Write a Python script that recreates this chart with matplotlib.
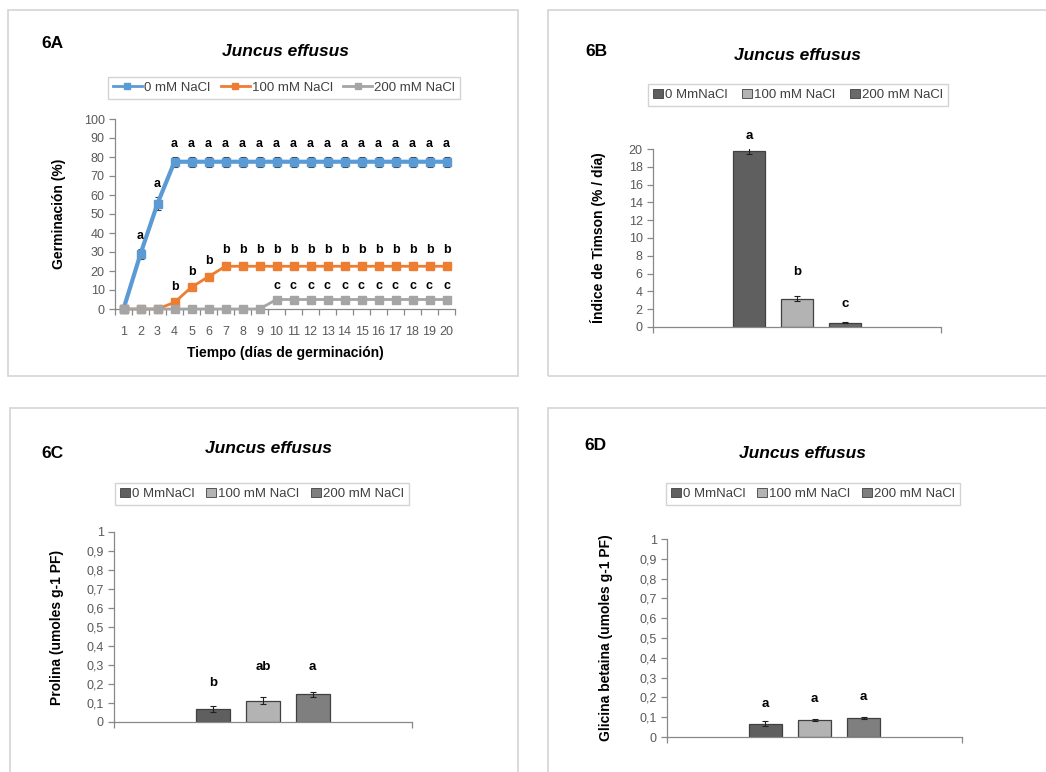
import matplotlib
matplotlib.use("Agg")
import matplotlib.pyplot as plt
from matplotlib.lines import Line2D
from matplotlib.patches import Rectangle, Patch

plt.rcParams['font.family'] = ['Liberation Sans', 'DejaVu Sans']

# Germinación acumulada (%) por día
dias = list(range(1, 21))
germ_0 = [0, 29, 55.5] + [77.5] * 17
err_0 = [0, 2.5, 3.5] + [2.5] * 17
germ_100 = [0, 0, 0, 3.5, 11.5, 17] + [22.5] * 14
err_100 = [0, 0, 0, 1, 1, 1] + [1.5] * 14
germ_200 = [0] * 9 + [5] * 11
err_200 = [0] * 20
letras_0 = [''] + ['a'] * 19
letras_100 = [''] * 3 + ['b'] * 17
letras_200 = [''] * 9 + ['c'] * 11

series_A = ['0 mM NaCl', '100 mM NaCl', '200 mM NaCl']
tratamientos = ['0 MmNaCl', '100 mM NaCl', '200 mM NaCl']

# Índice de Timson
timson = [19.8, 3.2, 0.5]
timson_err = [0.4, 0.3, 0.05]
timson_letras = ['a', 'b', 'c']

# Prolina
prolina = [0.07, 0.112, 0.145]
prolina_err = [0.015, 0.018, 0.015]
prolina_letras = ['b', 'ab', 'a']

# Glicina betaina
glicina = [0.068, 0.088, 0.097]
glicina_err = [0.012, 0.005, 0.005]
glicina_letras = ['a', 'a', 'a']

W, H = 1046, 772
fig = plt.figure(figsize=(W / 100, H / 100), dpi=100)

gris_txt = '#595959'
gris_eje = '#888888'


def px_axes(x0, x1, y_top, y_bot):
    return fig.add_axes([x0 / W, 1 - y_bot / H, (x1 - x0) / W, (y_bot - y_top) / H])


def marco(x0, y0, x1, y1):
    fig.patches.append(Rectangle((x0 / W, 1 - y1 / H), (x1 - x0) / W, (y1 - y0) / H,
                                 transform=fig.transFigure, fill=False,
                                 edgecolor='#d4d4d4', lw=1.2))


def txt(x, y, s, **kw):
    fig.text(x / W, 1 - y / H, s, **kw)


def estilo(ax):
    for s in ['top', 'right']:
        ax.spines[s].set_visible(False)
    for s in ['left', 'bottom']:
        ax.spines[s].set_color(gris_eje)
        ax.spines[s].set_linewidth(0.9)
    ax.tick_params(axis='y', colors=gris_eje, labelcolor=gris_txt, labelsize=9,
                   length=4, width=0.9)


def leyenda(handles, labels, cx, cy, **kw):
    leg = fig.legend(handles=handles, labels=labels, loc='center',
                     bbox_to_anchor=(cx / W, 1 - cy / H), ncol=3, frameon=True,
                     fancybox=False, edgecolor='#c8c8c8', fontsize=9.5,
                     handletextpad=0.15, borderpad=0.4, **kw)
    leg.get_frame().set_linewidth(1.0)
    for t in leg.get_texts():
        t.set_color('#404040')
    return leg


# marcos de cada panel
marco(8, 10, 518, 376)
marco(548, 10, 1060, 376)
marco(10, 408, 518, 790)
marco(548, 408, 1060, 790)

# ---- 6A: germinación ----
axA = px_axes(115, 455, 119, 309)
estilo(axA)
colores = ['#5b9bd5', '#ed7d31', '#a5a5a5']
series = [(germ_0, err_0, letras_0, 3.0, 6), (germ_100, err_100, letras_100, 2.0, 5.5),
          (germ_200, err_200, letras_200, 2.0, 5.5)]
for (vals, errs, letras, lw, ms), c in zip(series, colores):
    axA.errorbar(dias, vals, yerr=errs, color=c, lw=lw, marker='s', ms=ms,
                 ecolor='#404040', elinewidth=0.8, capsize=2.5, capthick=0.8,
                 clip_on=False, zorder=3)
    for d, v, e, l in zip(dias, vals, errs, letras):
        if l:
            axA.text(d, v + e + 7, l, ha='center', va='center', fontsize=9,
                     fontweight='bold')
axA.set_xlim(0.5, 20.5)
axA.set_ylim(0, 100)
axA.set_yticks(range(0, 101, 10))
axA.set_xticks(dias)
axA.set_xticks([d + 0.5 for d in range(0, 21)], minor=True)
axA.tick_params(axis='x', which='major', length=0, colors=gris_txt, labelsize=9, pad=12)
axA.tick_params(axis='x', which='minor', length=4, color=gris_eje, width=0.9)
axA.set_ylabel('Germinación (%)', fontsize=10, fontweight='bold', labelpad=13)
axA.set_xlabel('Tiempo (días de germinación)', fontsize=10, fontweight='bold', labelpad=6)
txt(52, 44, '6A', fontsize=12.5, fontweight='bold', ha='center', va='center')
txt(285, 52, 'Juncus effusus', fontsize=12.5, fontweight='bold', style='italic',
    ha='center', va='center')
hA = [Line2D([], [], color=c, lw=2.0, marker='s', ms=4.5) for c in colores]
leyenda(hA, series_A, 284, 88, handlelength=2.2, columnspacing=0.8)


# ---- paneles de barras ----
def barras(ax, vals, errs, letras, lab_y, colores_b, ylim, yticks, ylabels, ylabel, pad):
    estilo(ax)
    pos = [-1, 0, 1]
    ax.bar(pos, vals, width=0.68, color=colores_b, edgecolor='#404040', lw=0.9, zorder=2)
    ax.errorbar(pos, vals, yerr=errs, fmt='none', ecolor='#202020', elinewidth=0.8,
                capsize=2.5, capthick=0.8, zorder=3)
    for p, l, y in zip(pos, letras, lab_y):
        ax.text(p, y, l, ha='center', va='center', fontsize=9.5, fontweight='bold')
    ax.set_xlim(-3, 3)
    ax.set_ylim(*ylim)
    ax.set_yticks(yticks)
    ax.set_yticklabels(ylabels)
    ax.set_xticks([-3, 3])
    ax.set_xticklabels([])
    ax.tick_params(axis='x', length=4, color=gris_eje, width=0.9)
    ax.set_ylabel(ylabel, fontsize=10, fontweight='bold', labelpad=pad)


grises_b = ['#5f5f5f', '#b3b3b3', '#6a6a6a']
grises_cd = ['#5f5f5f', '#b3b3b3', '#7f7f7f']
hB = [Patch(facecolor=c, edgecolor='#404040', lw=0.6) for c in grises_b]
hCD = [Patch(facecolor=c, edgecolor='#404040', lw=0.6) for c in grises_cd]
kw_bar = dict(handlelength=0.75, handleheight=0.75, columnspacing=0.9)

# 6B
axB = px_axes(653, 941, 149, 327)
barras(axB, timson, timson_err, timson_letras, [21.5, 6.2, 2.6], grises_b, (0, 20),
       range(0, 21, 2), [str(v) for v in range(0, 21, 2)], 'Índice de Timson (% / día)', 16)
txt(596, 52, '6B', fontsize=12.5, fontweight='bold', ha='center', va='center')
txt(797, 56, 'Juncus effusus', fontsize=12.5, fontweight='bold', style='italic',
    ha='center', va='center')
leyenda(hB, tratamientos, 798, 95, handlelength=0.75, handleheight=0.75, columnspacing=1.15)

ticks01 = [i / 10 for i in range(11)]
labels01 = ['0'] + [f'0,{i}' for i in range(1, 10)] + ['1']

# 6C
axC = px_axes(114, 412, 532, 722)
barras(axC, prolina, prolina_err, prolina_letras, [0.205, 0.29, 0.29], grises_cd, (0, 1),
       ticks01, labels01, 'Prolina (umoles g-1 PF)', 16)
txt(52, 453, '6C', fontsize=12.5, fontweight='bold', ha='center', va='center')
txt(268, 449, 'Juncus effusus', fontsize=12.5, fontweight='bold', style='italic',
    ha='center', va='center')
leyenda(hCD, tratamientos, 262, 494, **kw_bar)

# 6D
axD = px_axes(667, 962, 539, 737)
barras(axD, glicina, glicina_err, glicina_letras, [0.167, 0.19, 0.2], grises_cd, (0, 1),
       ticks01, labels01, 'Glicina betaina (umoles g-1 PF)', 19)
txt(595, 445, '6D', fontsize=12.5, fontweight='bold', ha='center', va='center')
txt(802, 453, 'Juncus effusus', fontsize=12.5, fontweight='bold', style='italic',
    ha='center', va='center')
leyenda(hCD, tratamientos, 813, 494, **kw_bar)

fig.savefig('out.png', dpi=100)
